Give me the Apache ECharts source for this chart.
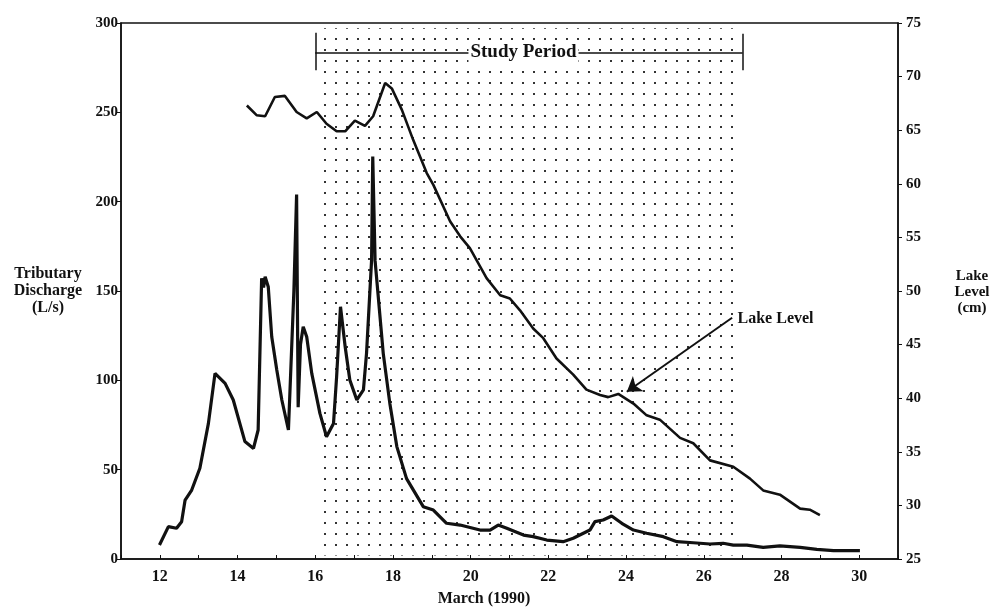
<!DOCTYPE html>
<html>
<head>
<meta charset="utf-8">
<script src="https://cdn.jsdelivr.net/npm/echarts@6/dist/echarts.min.js"></script>
<style>html,body{margin:0;padding:0;background:#fff}#c{width:993px;height:608px}</style>
</head>
<body>
<div id="c"></div>
<script>
// ---- data ----
const dischargeDays = [11.99,12.22,12.43,12.56,12.65,12.82,13.03,13.25,13.42,13.68,13.89,14.19,14.41,14.53,14.62,14.67,14.71,14.79,14.88,15.01,15.14,15.31,15.45,15.52,15.56,15.62,15.69,15.78,15.91,16.12,16.29,16.47,16.55,16.65,16.77,16.89,17.07,17.24,17.32,17.45,17.48,17.54,17.75,17.92,18.10,18.35,18.78,19.04,19.38,19.73,20.24,20.50,20.71,20.93,21.36,21.61,21.96,22.38,22.64,23.07,23.20,23.41,23.63,23.89,24.19,24.53,24.96,25.31,25.73,26.16,26.50,26.76,27.11,27.53,27.96,28.48,28.91,29.34,30.02];
const dischargeValues = [7.8,18.1,17.2,20.9,33.0,38.6,50.8,75.9,103.9,98.3,89.0,65.7,61.9,72.2,157.1,152,158,152.4,124.4,105.8,89.0,72.2,150,204,85,120,130,124.4,103.9,81.5,68.4,75.9,102,141.2,118.8,100.2,89.0,94.6,115.1,167.3,225.2,167,115.1,87.1,62.9,45,29.3,27.4,20.0,19.0,16.2,16.2,19.0,17.2,13.4,12.5,10.6,9.7,11.6,16.2,20.9,21.8,24.1,20.0,16.2,14.4,12.5,9.7,9.1,8.4,8.8,7.8,7.8,6.5,7.3,6.5,5.4,4.7,4.7];
const lakeDays = [14.24,14.49,14.71,14.96,15.22,15.52,15.78,16.04,16.29,16.55,16.77,17.02,17.28,17.49,17.80,17.97,18.23,18.52,18.87,19.04,19.47,19.73,19.98,20.41,20.76,21.01,21.27,21.61,21.87,22.21,22.64,22.98,23.33,23.54,23.80,24.19,24.53,24.87,25.39,25.73,26.16,26.76,27.19,27.53,27.96,28.48,28.73,28.99];
const lakeLevels = [67.3,66.4,66.3,68.1,68.2,66.7,66.1,66.7,65.6,64.9,64.9,65.9,65.4,66.3,69.4,68.9,66.9,64.1,61.0,59.9,56.5,55.1,54.0,51.2,49.6,49.3,48.2,46.5,45.6,43.7,42.2,40.8,40.3,40.1,40.4,39.5,38.4,38.0,36.3,35.8,34.2,33.6,32.5,31.4,31.0,29.7,29.6,29.1];
const studyPeriod = [16, 27];
const dottedSpan = [16.1, 26.9];
const xTicks = [12,14,16,18,20,22,24,26,28,30];

const FONT = '"Liberation Serif","DejaVu Serif",serif';
const INK = '#111';

// dot pattern
const pc = document.createElement('canvas');
pc.width = 11; pc.height = 11;
const pctx = pc.getContext('2d');
pctx.fillStyle = '#333';
pctx.fillRect(5, 5, 2, 2);

const chart = echarts.init(document.getElementById('c'), null, {renderer: 'canvas'});
const zip = (a, b) => a.map((v, i) => [v, b[i]]);

chart.setOption({
  animation: false,
  backgroundColor: '#fff',
  grid: {left: 121, right: 95, top: 23, bottom: 49, show: true, borderColor: INK, borderWidth: 1.5, backgroundColor: 'transparent'},
  xAxis: {
    type: 'value', min: 11, max: 31, interval: 1,
    axisLine: {show: true, lineStyle: {color: INK, width: 1.5}},
    axisTick: {show: true, inside: true, length: 4, lineStyle: {color: INK}},
    splitLine: {show: false},
    axisLabel: {
      margin: 10, color: INK, fontFamily: FONT, fontWeight: 'bold', fontSize: 16,
      formatter: v => xTicks.indexOf(v) >= 0 ? String(v) : ''
    }
  },
  yAxis: [{
    type: 'value', min: 0, max: 300, interval: 50,
    axisLine: {show: true, lineStyle: {color: INK, width: 1.5}},
    axisTick: {show: true, length: 4, lineStyle: {color: INK}},
    splitLine: {show: false},
    axisLabel: {margin: 3, color: INK, fontFamily: FONT, fontWeight: 'bold', fontSize: 15}
  }, {
    type: 'value', min: 25, max: 75, interval: 5, position: 'right',
    axisLine: {show: true, lineStyle: {color: INK, width: 1.5}},
    axisTick: {show: true, length: 4, lineStyle: {color: INK}},
    splitLine: {show: false},
    axisLabel: {margin: 8, color: INK, fontFamily: FONT, fontWeight: 'bold', fontSize: 15}
  }],
  graphic: [
    {type: 'text', style: {text: 'Tributary\nDischarge\n(L/s)', x: 0, y: 0, textAlign: 'center', fill: INK, font: 'bold 16px ' + FONT, lineHeight: 17}, x: 48, y: 265},
    {type: 'text', style: {text: 'Lake\nLevel\n(cm)', x: 0, y: 0, textAlign: 'center', fill: INK, font: 'bold 15px ' + FONT, lineHeight: 16}, x: 972, y: 268},
    {type: 'text', style: {text: 'March (1990)', x: 0, y: 0, textAlign: 'center', textVerticalAlign: 'middle', fill: INK, font: 'bold 16px ' + FONT}, x: 484, y: 599}
  ],
  series: [{
    type: 'line', name: 'Discharge', yAxisIndex: 0,
    data: zip(dischargeDays, dischargeValues),
    showSymbol: false, symbol: 'none',
    lineStyle: {color: INK, width: 3.2},
    markArea: {
      silent: true,
      itemStyle: {color: {image: pc, repeat: 'repeat'}},
      data: [[{xAxis: dottedSpan[0], yAxis: 2}, {xAxis: dottedSpan[1], yAxis: 297}]]
    },
    markLine: {
      silent: true, symbol: ['none', 'none'],
      lineStyle: {color: INK, width: 1.5, type: 'solid'},
      label: {show: false},
      data: [
        [{coord: [studyPeriod[0], 294.5]}, {coord: [studyPeriod[0], 273.5]}],
        [{coord: [studyPeriod[0], 283.5]}, {coord: [studyPeriod[1], 283.5]}],
        [{coord: [studyPeriod[1], 294]}, {coord: [studyPeriod[1], 273.5]}]
      ]
    },
    markPoint: {
      silent: true, symbol: 'rect', symbolSize: 0,
      label: {show: true, position: 'inside', formatter: 'Study Period', color: INK, fontFamily: FONT, fontWeight: 'bold', fontSize: 19, backgroundColor: '#fff', padding: [1, 2]},
      data: [{coord: [21.36, 283.5]}]
    }
  }, {
    type: 'line', name: 'Lake Level', yAxisIndex: 1,
    data: zip(lakeDays, lakeLevels),
    showSymbol: false, symbol: 'none',
    lineStyle: {color: INK, width: 2.6},
    markLine: {
      silent: true, symbol: ['none', 'arrow'], symbolSize: 14,
      lineStyle: {color: INK, width: 2, type: 'solid'},
      itemStyle: {color: INK},
      label: {show: false},
      data: [[{coord: [26.73, 47.5]}, {coord: [24.02, 40.6]}]]
    },
    markPoint: {
      silent: true, symbol: 'rect', symbolSize: 0,
      label: {show: true, position: 'right', distance: 0, formatter: 'Lake Level', color: INK, fontFamily: FONT, fontWeight: 'bold', fontSize: 16},
      data: [{coord: [26.87, 47.4]}]
    }
  }]
});
</script>
</body>
</html>
